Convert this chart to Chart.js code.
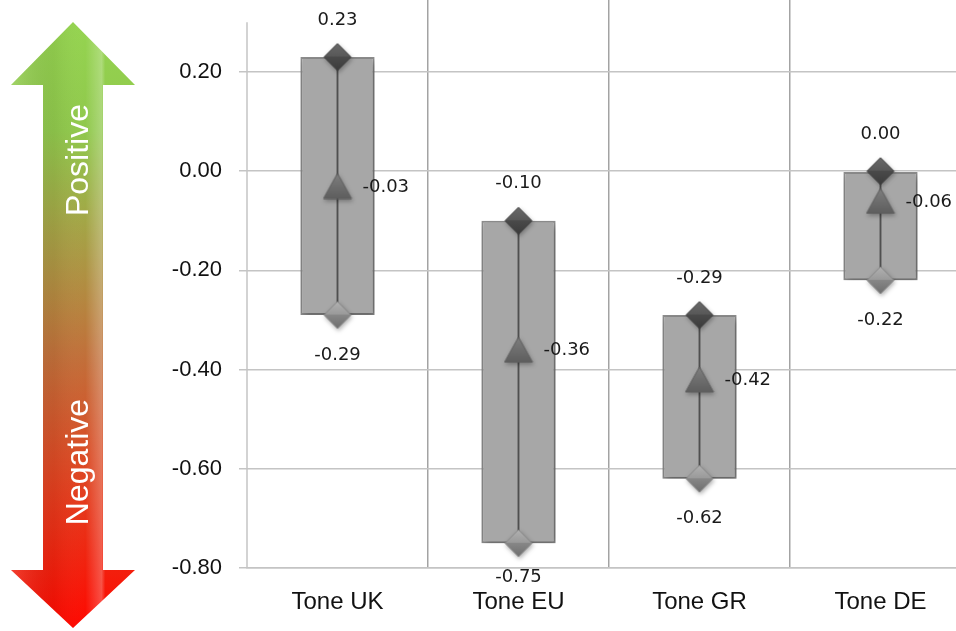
<!DOCTYPE html>
<html>
<head>
<meta charset="utf-8">
<script src="https://cdn.jsdelivr.net/npm/chart.js@4.4.1/dist/chart.umd.min.js"></script>
<style>
html,body{margin:0;padding:0;background:#fff;overflow:hidden;}
#wrap{position:relative;width:980px;height:631px;}
</style>
</head>
<body>
<div id="wrap"><canvas id="chart"></canvas></div>
<script>
// data
const categories = ['Tone UK', 'Tone EU', 'Tone GR', 'Tone DE'];
const highValues = [0.23, -0.10, -0.29, 0.00];
const meanValues = [-0.03, -0.36, -0.42, -0.06];
const lowValues  = [-0.29, -0.75, -0.62, -0.22];
const yTicks = [0.2, 0, -0.2, -0.4, -0.6, -0.8];
const axisTop = 0.30;
const arrowTexts = ['Positive', 'Negative'];

const ranges = categories.map((c, i) => [lowValues[i], highValues[i]]);

// marker images (shaded diamonds / triangle)
function makeMarker(shape, w, h, stops, stroke) {
  const cv = document.createElement('canvas');
  cv.width = w; cv.height = h;
  const c = cv.getContext('2d');
  c.beginPath();
  if (shape === 'diamond') {
    c.moveTo(w / 2, 1); c.lineTo(w - 1, h / 2); c.lineTo(w / 2, h - 1); c.lineTo(1, h / 2);
  } else {
    c.moveTo(w / 2, 1); c.lineTo(w - 1, h - 1); c.lineTo(1, h - 1);
  }
  c.closePath();
  const g = c.createLinearGradient(0, 0, 0, h);
  stops.forEach(s => g.addColorStop(s[0], s[1]));
  c.fillStyle = g;
  c.fill();
  c.strokeStyle = stroke;
  c.lineWidth = 1;
  c.stroke();
  return cv;
}
const highMarker = makeMarker('diamond', 29, 29, [[0, '#6a6a6a'], [0.5, '#575757'], [0.5, '#4a4a4a'], [1, '#3a3a3a']], '#404040');
const lowMarker = makeMarker('diamond', 29, 29, [[0, '#b3b3b3'], [0.5, '#999999'], [0.5, '#878787'], [1, '#6c6c6c']], '#8a8a8a');
const meanMarker = makeMarker('triangle', 30, 27, [[0, '#808080'], [1, '#5c5c5c']], '#5f5f5f');

// left double arrow (decoration)
const arrowPlugin = {
  id: 'arrow',
  beforeDraw(chart) {
    const c = chart.ctx;
    const cx = 73, tipTop = 22, headTop = 85, headBot = 570, tipBot = 628, hw = 62, sw = 30;
    c.save();
    c.beginPath();
    c.moveTo(cx, tipTop);
    c.lineTo(cx + hw, headTop);
    c.lineTo(cx + sw, headTop);
    c.lineTo(cx + sw, headBot);
    c.lineTo(cx + hw, headBot);
    c.lineTo(cx, tipBot);
    c.lineTo(cx - hw, headBot);
    c.lineTo(cx - sw, headBot);
    c.lineTo(cx - sw, headTop);
    c.lineTo(cx - hw, headTop);
    c.closePath();
    const g = c.createLinearGradient(0, tipTop, 0, tipBot);
    g.addColorStop(0, '#95d450');
    g.addColorStop(0.18, '#90c84c');
    g.addColorStop(0.38, '#aa9a44');
    g.addColorStop(0.55, '#c1703a');
    g.addColorStop(0.75, '#df4421');
    g.addColorStop(1, '#ff0800');
    c.fillStyle = g;
    c.fill();
    // bevel sheen
    const h = c.createLinearGradient(cx - hw, 0, cx + hw, 0);
    h.addColorStop(0, 'rgba(255,255,255,0.15)');
    h.addColorStop(0.35, 'rgba(0,0,0,0.05)');
    h.addColorStop(0.6, 'rgba(255,255,255,0)');
    h.addColorStop(0.73, 'rgba(255,255,255,0.25)');
    h.addColorStop(0.76, 'rgba(255,255,255,0)');
    c.fillStyle = h;
    c.fill();
    // texts
    c.fillStyle = '#ffffff';
    c.font = '32px "Liberation Sans"';
    c.textAlign = 'center';
    c.textBaseline = 'middle';
    c.translate(79, 160);
    c.rotate(-Math.PI / 2);
    c.fillText(arrowTexts[0], 0, 0);
    c.rotate(Math.PI / 2);
    c.translate(0, 302);
    c.rotate(-Math.PI / 2);
    c.fillText(arrowTexts[1], 0, 0);
    c.restore();
  }
};

// y axis line from 0.30 down
const axisLinePlugin = {
  id: 'axisLine',
  beforeDatasetsDraw(chart) {
    const y = chart.scales.y;
    const c = chart.ctx;
    c.save();
    c.strokeStyle = '#c4c4c4';
    c.lineWidth = 1.5;
    c.beginPath();
    c.moveTo(y.right, y.getPixelForValue(axisTop));
    c.lineTo(y.right, y.bottom);
    c.stroke();
    c.restore();
  }
};

// shadows for box and markers
const shadowPlugin = {
  id: 'shadow',
  beforeDatasetDraw(chart, args) {
    const c = chart.ctx;
    c.save();
    if (args.index === 0) {
      c.shadowColor = 'rgba(0,0,0,0.35)';
      c.shadowBlur = 7;
      c.shadowOffsetX = 2;
      c.shadowOffsetY = 3;
    } else if (args.index >= 2) {
      c.shadowColor = 'rgba(0,0,0,0.3)';
      c.shadowBlur = 4;
      c.shadowOffsetX = 1;
      c.shadowOffsetY = 2;
    }
  },
  afterDatasetDraw(chart) {
    chart.ctx.restore();
  }
};

// value labels
const labelPlugin = {
  id: 'valueLabels',
  afterDatasetsDraw(chart) {
    const c = chart.ctx;
    const bottom = chart.chartArea.bottom;
    c.save();
    c.font = '18px "DejaVu Sans"';
    c.fillStyle = '#1a1a1a';
    c.textBaseline = 'middle';
    chart.data.datasets.forEach((ds, di) => {
      if (!ds.labelPos) return;
      const meta = chart.getDatasetMeta(di);
      meta.data.forEach((pt, i) => {
        const txt = ds.data[i].toFixed(2);
        if (ds.labelPos === 'above') {
          c.textAlign = 'center';
          c.fillText(txt, pt.x, pt.y - 37);
        } else if (ds.labelPos === 'below') {
          c.textAlign = 'center';
          c.fillText(txt, pt.x, Math.min(pt.y + 40, bottom + 9));
        } else {
          c.textAlign = 'left';
          c.fillText(txt, pt.x + 25, pt.y + 1);
        }
      });
    });
    c.restore();
  }
};

const config = {
  data: {
    labels: categories,
    datasets: [
      {
        type: 'bar',
        data: ranges,
        backgroundColor: '#a7a7a7',
        borderColor: '#8e8e8e',
        borderWidth: 2,
        borderSkipped: false,
        barPercentage: 0.41,
        categoryPercentage: 1,
        grouped: false,
        order: 5
      },
      {
        type: 'bar',
        data: ranges,
        backgroundColor: '#4f4f4f',
        borderWidth: 0,
        barThickness: 1.2,
        grouped: false,
        order: 4
      },
      {
        type: 'line',
        data: lowValues,
        showLine: false,
        pointStyle: lowMarker,
        pointRadius: 14,
        order: 3,
        labelPos: 'below'
      },
      {
        type: 'line',
        data: meanValues,
        showLine: false,
        pointStyle: meanMarker,
        pointRadius: 15,
        order: 2,
        labelPos: 'right'
      },
      {
        type: 'line',
        data: highValues,
        showLine: false,
        pointStyle: highMarker,
        pointRadius: 14,
        order: 1,
        labelPos: 'above'
      }
    ]
  },
  options: {
    responsive: true,
    maintainAspectRatio: false,
    animation: false,
    layout: { autoPadding: false, padding: { left: 0, right: 9, top: 0, bottom: 0 } },
    plugins: { legend: { display: false }, tooltip: { enabled: false } },
    scales: {
      x: {
        offset: true,
        grid: {
          offset: true,
          drawTicks: false,
          lineWidth: 1.5,
          color: ctx => ctx.index === 0 ? 'rgba(0,0,0,0)' : '#a3a3a3'
        },
        border: { display: true, color: '#c4c4c4', width: 1.5 },
        ticks: { padding: 20, color: '#111', font: { family: 'Liberation Sans', size: 24 } },
        afterFit: s => { s.height = 63; s.paddingLeft = 0; s.paddingRight = 0; }
      },
      y: {
        min: -0.8,
        max: 0.345,
        afterBuildTicks: s => { s.ticks = yTicks.map(v => ({ value: v })); },
        afterFit: s => { s.width = 247; s.paddingTop = 0; s.paddingBottom = 0; },
        grid: { color: '#c4c4c4', lineWidth: 1.5, drawTicks: true, tickLength: 8 },
        border: { display: false },
        ticks: {
          padding: 17,
          color: '#111',
          font: { family: 'Liberation Sans', size: 22 },
          callback: v => v.toFixed(2)
        }
      }
    }
  },
  plugins: [arrowPlugin, axisLinePlugin, shadowPlugin, labelPlugin]
};

const myChart = new Chart(document.getElementById('chart'), config);
</script>
</body>
</html>
